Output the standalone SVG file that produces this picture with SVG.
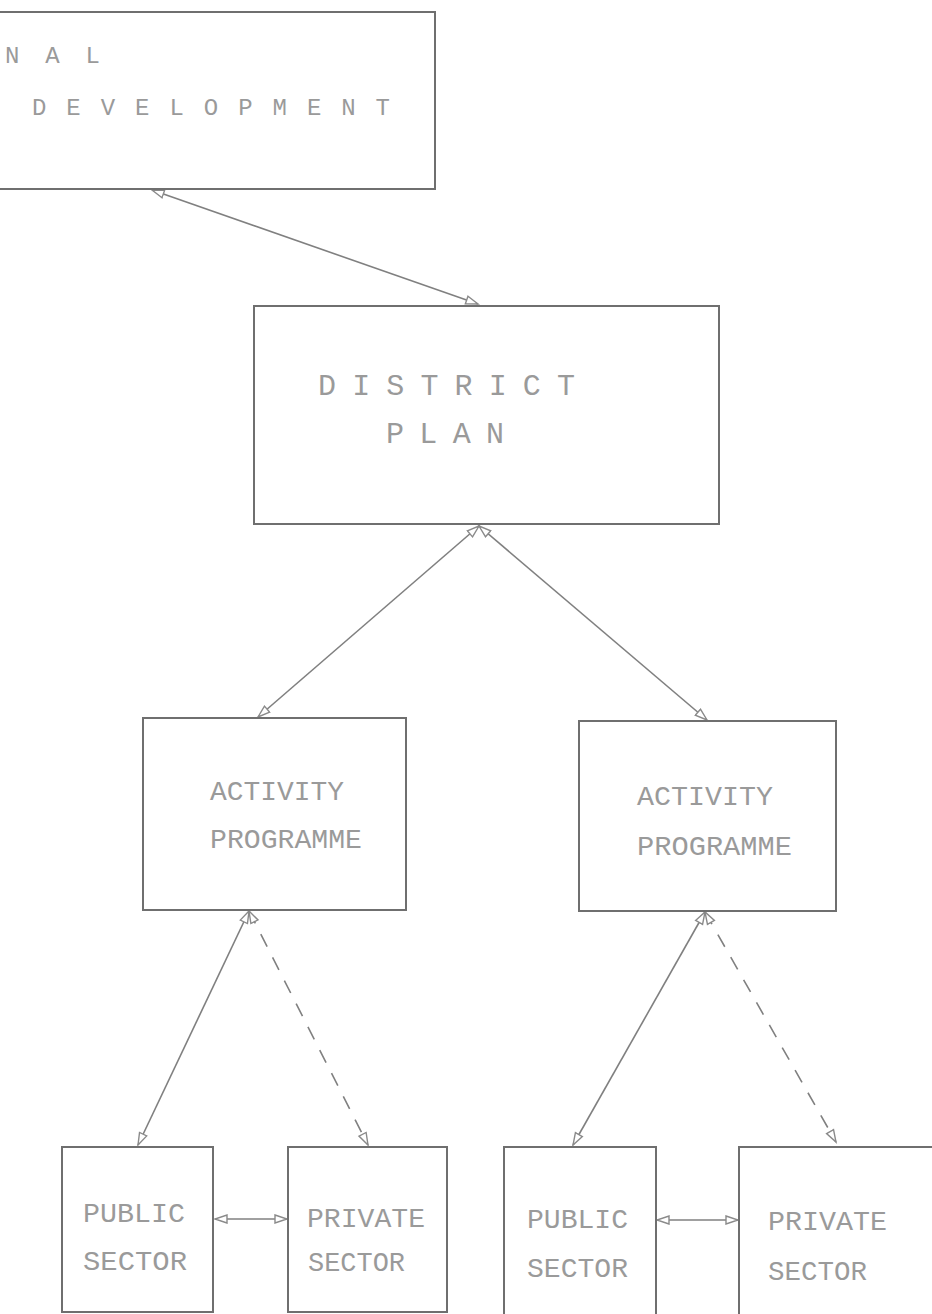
<svg xmlns="http://www.w3.org/2000/svg" width="932" height="1314" viewBox="0 0 932 1314">
  <style>
    .box { fill: none; stroke: #6f6f6f; stroke-width: 2; }
    .lbl { font-family: "Liberation Mono", "DejaVu Sans Mono", monospace; fill: #9a9a9a; font-size: 28px; }
    .big { font-size: 30px; }
    .top { font-size: 24px; }
    .con { fill: none; stroke: #808080; stroke-width: 1.6; marker-start: url(#ah); marker-end: url(#ah); }
    .dash { stroke-dasharray: 14 12; }
  </style>
  <defs>
    <marker id="ah" markerUnits="userSpaceOnUse" markerWidth="16" markerHeight="12" refX="13" refY="5" orient="auto-start-reverse" viewBox="0 0 16 10">
      <path d="M1,1 L13,5 L1,9 z" fill="#ffffff" stroke="#8a8a8a" stroke-width="1.4"/>
    </marker>
  </defs>
  <rect width="932" height="1314" fill="#ffffff"/>

  <g id="connectors">
    <line class="con" x1="152" y1="190" x2="478" y2="304"/>
    <line class="con" x1="479" y1="526" x2="258" y2="717"/>
    <line class="con" x1="479" y1="526" x2="707" y2="720"/>
    <line class="con" x1="249" y1="911" x2="138" y2="1145"/>
    <line class="con dash" x1="249" y1="911" x2="368" y2="1145"/>
    <line class="con" x1="705" y1="912" x2="573" y2="1145"/>
    <line class="con dash" x1="705" y1="912" x2="836" y2="1142"/>
    <line class="con" x1="215" y1="1219" x2="287" y2="1219"/>
    <line class="con" x1="657" y1="1220" x2="738" y2="1220"/>
  </g>

  <g id="national-development">
    <rect class="box" x="-10" y="12" width="445" height="177"/>
    <text class="lbl top" x="5" y="63" textLength="95" lengthAdjust="spacing">N A L</text>
    <text class="lbl top" x="32" y="115" textLength="358" lengthAdjust="spacing">D E V E L O P M E N T</text>
  </g>

  <g id="district-plan">
    <rect class="box" x="254" y="306" width="465" height="218"/>
    <text class="lbl big" x="318" y="395" textLength="257" lengthAdjust="spacing">D I S T R I C T</text>
    <text class="lbl big" x="386" y="443" textLength="118" lengthAdjust="spacing">P L A N</text>
  </g>

  <g id="activity-programme-left">
    <rect class="box" x="143" y="718" width="263" height="192"/>
    <text class="lbl" x="210" y="800" textLength="134" lengthAdjust="spacingAndGlyphs">ACTIVITY</text>
    <text class="lbl" x="210" y="848" textLength="152" lengthAdjust="spacingAndGlyphs">PROGRAMME</text>
  </g>

  <g id="activity-programme-right">
    <rect class="box" x="579" y="721" width="257" height="190"/>
    <text class="lbl" x="637" y="805" textLength="136" lengthAdjust="spacingAndGlyphs">ACTIVITY</text>
    <text class="lbl" x="637" y="855" textLength="155" lengthAdjust="spacingAndGlyphs">PROGRAMME</text>
  </g>

  <g id="public-sector-left">
    <rect class="box" x="62" y="1147" width="151" height="165"/>
    <text class="lbl" x="83" y="1222" textLength="102" lengthAdjust="spacingAndGlyphs">PUBLIC</text>
    <text class="lbl" x="83" y="1270" textLength="104" lengthAdjust="spacingAndGlyphs">SECTOR</text>
  </g>

  <g id="private-sector-left">
    <rect class="box" x="288" y="1147" width="159" height="165"/>
    <text class="lbl" x="307" y="1227" textLength="118" lengthAdjust="spacingAndGlyphs">PRIVATE</text>
    <text class="lbl" x="308" y="1271" textLength="97" lengthAdjust="spacingAndGlyphs">SECTOR</text>
  </g>

  <g id="public-sector-right">
    <rect class="box" x="504" y="1147" width="152" height="175"/>
    <text class="lbl" x="527" y="1228" textLength="101" lengthAdjust="spacingAndGlyphs">PUBLIC</text>
    <text class="lbl" x="527" y="1277" textLength="101" lengthAdjust="spacingAndGlyphs">SECTOR</text>
  </g>

  <g id="private-sector-right">
    <rect class="box" x="739" y="1147" width="210" height="175"/>
    <text class="lbl" x="768" y="1230" textLength="119" lengthAdjust="spacingAndGlyphs">PRIVATE</text>
    <text class="lbl" x="768" y="1280" textLength="99" lengthAdjust="spacingAndGlyphs">SECTOR</text>
  </g>
</svg>
